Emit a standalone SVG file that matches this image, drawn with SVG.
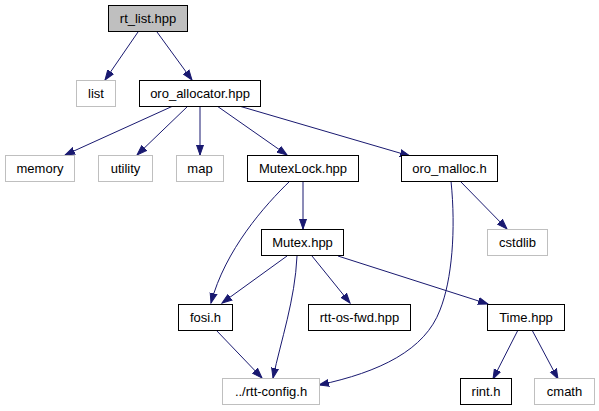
<svg xmlns="http://www.w3.org/2000/svg" width="599" height="411" viewBox="0 0 599 411">
<style>
rect{stroke-width:1}
.n rect{fill:#fff;stroke:#000}
.g rect{fill:#fff;stroke:#bfbfbf}
.r rect{fill:#bfbfbf;stroke:#000}
text{font-family:"Liberation Sans",Arial,Helvetica,sans-serif;font-size:13px;fill:#000;text-anchor:middle}
.e path{fill:none;stroke:#191970;stroke-width:1;marker-end:url(#a)}
</style>
<defs>
<marker id="a" markerUnits="userSpaceOnUse" markerWidth="12" markerHeight="10" viewBox="0 -5 12 10" refX="10" refY="0" orient="auto">
<path d="M0,-3.5 L10,0 L0,3.5 z" fill="#191970" stroke="#191970" stroke-width="1"/>
</marker>
</defs>
<rect width="599" height="411" fill="#fff"/>
<g class="e" id="edges">
<path d="M138,32 L105,80"/>
<path d="M157,32 L192,80"/>
<path d="M173,106 L65,155"/>
<path d="M188,106 L137,155"/>
<path d="M200,106 L200,155"/>
<path d="M217,106 L287,155"/>
<path d="M239,106 L410,156"/>
<path d="M460,181 L507,229"/>
<path d="M451,181 C456,230 452,280 440,310 C425,350 380,372 319,385"/>
<path d="M303,181 L303,229"/>
<path d="M290,181 C265,205 225,250 211,303"/>
<path d="M287,256 L222,303"/>
<path d="M297,256 C295,300 281,340 273,378"/>
<path d="M312,256 L350,303"/>
<path d="M338,256 L488,304"/>
<path d="M216,330 L262,378"/>
<path d="M518,330 L493,379"/>
<path d="M532,330 L558,379"/>
</g>
<g id="rt_list" class="r"><rect x="108.5" y="5.5" width="79" height="26"/><text x="148" y="23">rt_list.hpp</text></g>
<g id="list" class="g"><rect x="76.5" y="80.5" width="39" height="26"/><text x="96" y="98">list</text></g>
<g id="oro_allocator" class="n"><rect x="139.5" y="80.5" width="121" height="26"/><text x="200" y="98">oro_allocator.hpp</text></g>
<g id="memory" class="g"><rect x="5.5" y="155.5" width="69" height="26"/><text x="40" y="173">memory</text></g>
<g id="utility" class="g"><rect x="98.5" y="155.5" width="54" height="26"/><text x="125.5" y="173">utility</text></g>
<g id="map" class="g"><rect x="176.5" y="155.5" width="47" height="26"/><text x="200" y="173">map</text></g>
<g id="MutexLock" class="n"><rect x="247.5" y="155.5" width="111" height="26"/><text x="303" y="173">MutexLock.hpp</text></g>
<g id="oro_malloc" class="n"><rect x="401.5" y="155.5" width="96" height="26"/><text x="449.5" y="173">oro_malloc.h</text></g>
<g id="cstdlib" class="g"><rect x="487.5" y="229.5" width="60" height="26"/><text x="517.5" y="247">cstdlib</text></g>
<g id="Mutex" class="n"><rect x="261.5" y="229.5" width="82" height="26"/><text x="302.5" y="247">Mutex.hpp</text></g>
<g id="fosi" class="n"><rect x="178.5" y="304.5" width="54" height="26"/><text x="205.5" y="322">fosi.h</text></g>
<g id="rtt_os_fwd" class="n"><rect x="308.5" y="304.5" width="102" height="26"/><text x="359.5" y="322">rtt-os-fwd.hpp</text></g>
<g id="Time" class="n"><rect x="487.5" y="304.5" width="77" height="26"/><text x="526" y="322">Time.hpp</text></g>
<g id="rtt_config" class="g"><rect x="222.5" y="378.5" width="97" height="26"/><text x="271" y="396">../rtt-config.h</text></g>
<g id="rint" class="n"><rect x="460.5" y="378.5" width="51" height="26"/><text x="486" y="396">rint.h</text></g>
<g id="cmath" class="g"><rect x="534.5" y="378.5" width="60" height="26"/><text x="564.5" y="396">cmath</text></g>
</svg>
